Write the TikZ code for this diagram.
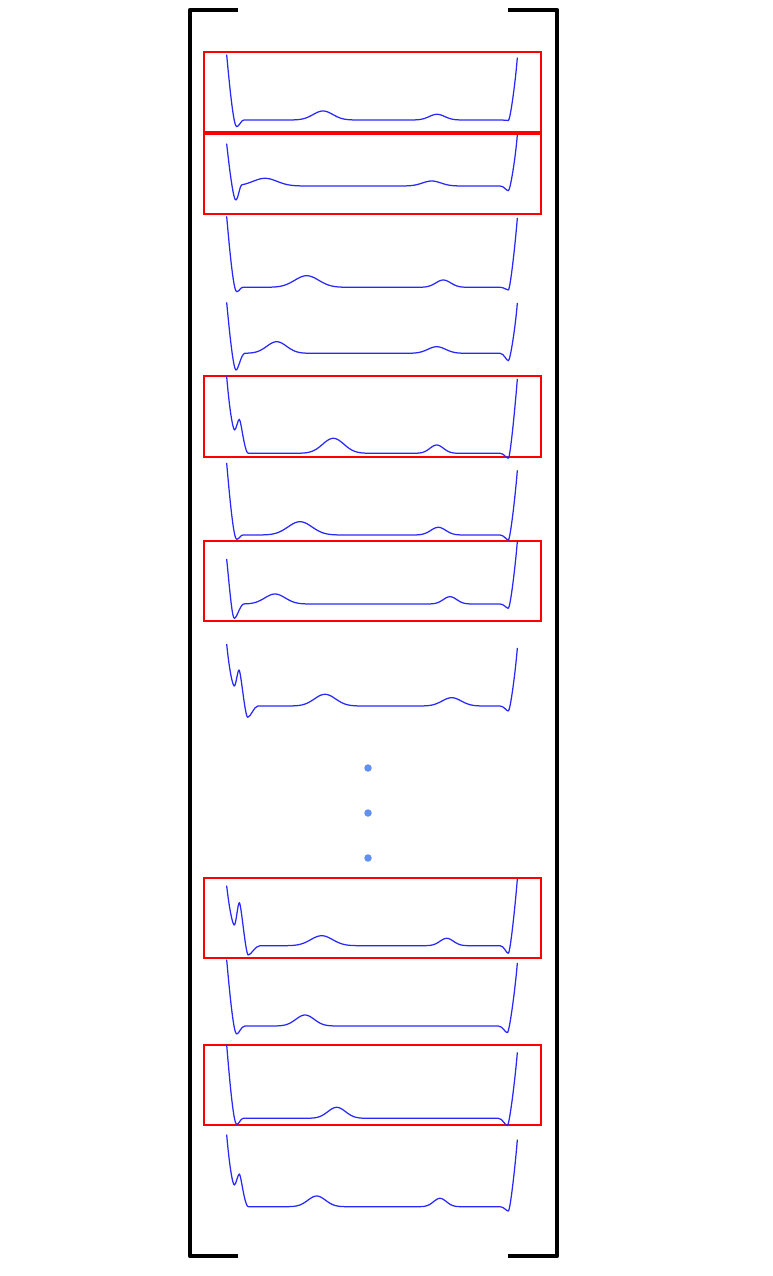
\documentclass[tikz,border=0pt]{standalone}
\usepackage{tikz}
\definecolor{sigblue}{RGB}{40,40,250}
\definecolor{dotblue}{RGB}{96,144,240}
\tikzset{
  sig/.style={draw=sigblue, line width=1.25pt, line join=round, line cap=round},
  redbox/.style={draw=red, line width=2pt},
  brack/.style={draw=black, line width=4.5pt, line join=round},
  dotnode/.style={circle, fill=dotblue, inner sep=0pt, minimum size=7.5pt},
  declare function={
    g(\x,\c,\w)=exp(-min(((\x-\c)/\w)^2,12));
    fa(\x)=120-9*g(\x,323,14)-5.7*g(\x,437,11);
    fb(\x)=186-7.7*g(\x,265,17)-5*g(\x,431.7,13);
    fc(\x)=287.3-11.6*g(\x,306.7,17)-7.3*g(\x,443.3,10.5);
    fd(\x)=353.3-11.6*g(\x,276.7,14)-6.6*g(\x,436.7,12.5);
    fe(\x)=453.3-15*g(\x,333.3,15)-8.3*g(\x,436.7,9.5);
    ff(\x)=535-13.3*g(\x,300,17)-7.7*g(\x,438.3,10.5);
    fg(\x)=604-10*g(\x,275,14.5)-7.3*g(\x,450,9.5);
    fh(\x)=706-11.7*g(\x,325,15)-8.3*g(\x,451.7,13.5);
    fi(\x)=945.7-10*g(\x,321.7,15.5)-7.4*g(\x,446.7,9.5);
    fj(\x)=1026-11*g(\x,305,13);
    fk(\x)=1118.3-11*g(\x,336.7,12.5);
    fl(\x)=1206.7-10.7*g(\x,316.7,12.5)-8.4*g(\x,440,9);
  }
}
\begin{document}
\begin{tikzpicture}[x=1pt,y=-1pt]
\useasboundingbox (0,0) rectangle (772,1276);
% brackets
\draw[brack] (238,10) -- (190,10) -- (190,1256) -- (238,1256);
\draw[brack] (508,10) -- (557,10) -- (557,1256) -- (508,1256);
% red boxes
\draw[redbox] (204,52) rectangle (541,132);
\draw[redbox] (204,134) rectangle (541,214);
\draw[redbox] (204,376) rectangle (541,457);
\draw[redbox] (204,541) rectangle (541,621);
\draw[redbox] (204,878) rectangle (541,958);
\draw[redbox] (204,1045) rectangle (541,1125);
% curve 1 (plain)
\draw[sig] (226.7,55) .. controls (230.3,94) and (233.8,126.7) .. (236.7,126.7)
  .. controls (239.2,126.7) and (241,{fa(244)}) .. (244,{fa(244)})
  -- plot[domain=244:500,samples=160] (\x,{fa(\x)})
  .. controls (504,120) and (506.2,120.5) .. (508.3,120.5) .. controls (510.3,120.5) and (515.6,80) .. (517.3,58);
% curve 2 (shoulder)
\draw[sig] (226.7,144) .. controls (230.1,175) and (233.6,200) .. (235.7,200)
  .. controls (238.2,200) and (239.5,{fb(242)+0.6}) .. (242,{fb(242)})
  -- plot[domain=242:500,samples=160] (\x,{fb(\x)})
  .. controls (504,186) and (506.2,190.7) .. (508.3,190.7) .. controls (510.3,190.7) and (515.6,157) .. (517.3,135);
% curve 3 (plain)
\draw[sig] (226.7,216.7) .. controls (230.3,258) and (233.8,291.7) .. (236.7,291.7)
  .. controls (239.2,291.7) and (240.5,{fc(243)}) .. (243,{fc(243)})
  -- plot[domain=243:500,samples=160] (\x,{fc(\x)})
  .. controls (504,287.3) and (506.2,290) .. (508.3,290) .. controls (510.3,290) and (515.6,240.3) .. (517.3,218.3);
% curve 4 (shoulder)
\draw[sig] (226.7,302.7) .. controls (230.1,339) and (233.6,370) .. (236,370)
  .. controls (238.5,370) and (241,{fd(245)+0.3}) .. (245,{fd(245)})
  -- plot[domain=245:500,samples=160] (\x,{fd(\x)})
  .. controls (504,353.3) and (506.2,360.7) .. (508.3,360.7) .. controls (510.3,360.7) and (515.6,325.3) .. (517.3,303.3);
% curve 5 (double dip, no undershoot)
\draw[sig] (226.7,376.7) .. controls (229.3,408) and (232.8,430) .. (234.6,430)
  .. controls (236.2,430) and (237.8,419.3) .. (239.3,419.3)
  .. controls (241,419.3) and (244.5,453.3) .. (248.3,453.3)
  -- plot[domain=248.3:500,samples=160] (\x,{fe(\x)})
  .. controls (504,453.3) and (506.2,458.3) .. (508.3,458.3) .. controls (510.3,458.3) and (515.6,401.3) .. (517.3,379.3);
% curve 6 (plain)
\draw[sig] (226.7,463.3) .. controls (230.3,505) and (233.8,539.3) .. (236.7,539.3)
  .. controls (239.2,539.3) and (240.5,{ff(243)}) .. (243,{ff(243)})
  -- plot[domain=243:500,samples=160] (\x,{ff(\x)})
  .. controls (504,535) and (506.2,540) .. (508.3,540) .. controls (510.3,540) and (515.6,492.7) .. (517.3,470.7);
% curve 7 (shoulder)
\draw[sig] (226.7,559.3) .. controls (229.9,592) and (232.2,618.3) .. (234.3,618.3)
  .. controls (237,618.3) and (240,{fg(244)+0.4}) .. (244,{fg(244)})
  -- plot[domain=244:500,samples=160] (\x,{fg(\x)})
  .. controls (504,604) and (506.2,608.3) .. (508.3,608.3) .. controls (510.3,608.3) and (515.6,563.7) .. (517.3,541.7);
% curve 8 (double dip, undershoot)
\draw[sig] (226.7,644.3) .. controls (229.3,670) and (232.6,686) .. (234.3,686)
  .. controls (235.9,686) and (237.6,670) .. (239,670)
  .. controls (240.8,670) and (245,717.3) .. (247.7,717.3)
  .. controls (250.7,717.3) and (254,{fh(258)}) .. (258,{fh(258)})
  -- plot[domain=258:500,samples=160] (\x,{fh(\x)})
  .. controls (504,706) and (506.2,711) .. (508.3,711) .. controls (510.3,711) and (515.6,670.3) .. (517.3,648.3);
% curve 9 (double dip, undershoot)
\draw[sig] (226.7,886) .. controls (229.3,909) and (232.6,925) .. (234.3,925)
  .. controls (236,925) and (237.8,902.7) .. (239.3,902.7)
  .. controls (241.2,902.7) and (245.5,955) .. (248.3,955)
  .. controls (251.3,955) and (255,{fi(260)}) .. (260,{fi(260)})
  -- plot[domain=260:500,samples=160] (\x,{fi(\x)})
  .. controls (504,945.7) and (506.2,953.3) .. (508.3,953.3) .. controls (510.3,953.3) and (515.6,901.3) .. (517.3,879.3);
% curve 10 (plain)
\draw[sig] (226.7,960) .. controls (230.3,1000) and (233.8,1034) .. (236.7,1034)
  .. controls (239.2,1034) and (241,{fj(245)}) .. (245,{fj(245)})
  -- plot[domain=245:498.3,samples=160] (\x,{fj(\x)})
  .. controls (502.5,1026) and (505.2,1032.7) .. (507.3,1032.7) .. controls (509.5,1032.7) and (515.6,985.3) .. (517.3,963.3);
% curve 11 (plain)
\draw[sig] (226.7,1045) .. controls (230.3,1089) and (233.8,1124.3) .. (236.7,1124.3)
  .. controls (239.2,1124.3) and (240.5,{fk(243.3)}) .. (243.3,{fk(243.3)})
  -- plot[domain=243.3:498.3,samples=160] (\x,{fk(\x)})
  .. controls (502.5,1118.3) and (505.2,1125.7) .. (507.3,1125.7) .. controls (509.5,1125.7) and (515.6,1074.7) .. (517.3,1052.7);
% curve 12 (double dip, no undershoot)
\draw[sig] (226.7,1135) .. controls (229.3,1165) and (232.6,1185) .. (234.3,1185)
  .. controls (236,1185) and (237.8,1174) .. (239.3,1174)
  .. controls (241,1174) and (244.5,1206.7) .. (248.3,1206.7)
  -- plot[domain=248.3:500,samples=160] (\x,{fl(\x)})
  .. controls (504,1206.7) and (506.2,1211) .. (508.3,1211) .. controls (510.3,1211) and (515.6,1162) .. (517.3,1140);
% vertical dots
\node[dotnode] (d1) at (368,768) {};
\node[dotnode] (d2) at (368,813) {};
\node[dotnode] (d3) at (368,858) {};
\end{tikzpicture}
\end{document}
